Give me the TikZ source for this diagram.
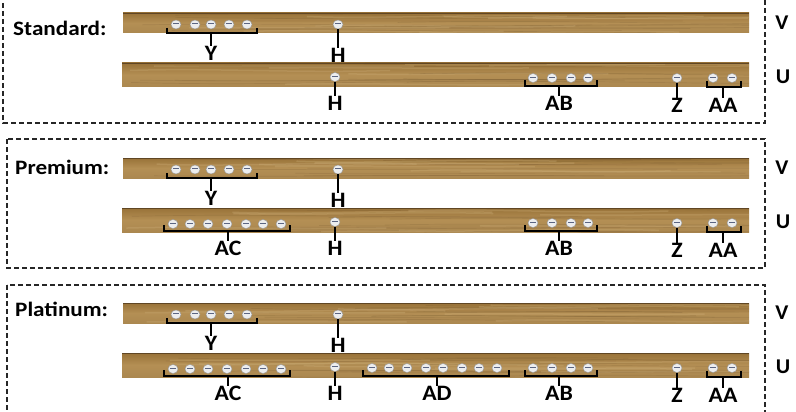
\documentclass[tikz,border=0pt]{standalone}
\usepackage{fontspec}
\setmainfont{Carlito}
\usetikzlibrary{shapes.geometric}
\definecolor{woodA}{RGB}{152,114,56}
\definecolor{woodB}{RGB}{180,143,84}
\definecolor{woodD}{RGB}{96,70,36}
\definecolor{woodL}{RGB}{206,176,122}
\definecolor{btnfill}{RGB}{236,237,238}
\definecolor{btnedge}{RGB}{150,150,150}
\definecolor{btnink}{RGB}{90,100,130}
\tikzset{
  btn/.style={ellipse, draw=btnedge, line width=0.4pt, fill=btnfill, inner sep=0pt,
    minimum width=10pt, minimum height=9pt,
    path picture={\fill[btnink] ([xshift=-2.6pt,yshift=0.3pt]path picture bounding box.center) rectangle ++(5.2pt,0.9pt);}},
  lbl/.style={font=\bfseries\fontsize{22}{22}\selectfont, inner sep=0pt, xscale=1.08},
  sidelbl/.style={font=\bfseries\fontsize{21}{21}\selectfont, inner sep=0pt, xscale=1.05},
  ttl/.style={font=\bfseries\fontsize{20.5}{20.5}\selectfont, inner sep=0pt, anchor=west, xscale=1.13},
  brk/.style={line width=2pt, black},
  panelbox/.style={line width=1.1pt, black!85, dash pattern=on 5pt off 3pt},
}
\newcommand\woodboard[4]{%
  \begin{scope}
    \clip (#1,#2) rectangle (#3,#4);
    \shade[top color=woodA, bottom color=woodB!95!black, middle color=woodB] (#1,#2) rectangle (#3,#4);
    \foreach \k in {1,...,12}{
      \pgfmathsetmacro\yy{#2+rnd*(#4-#2)}
      \pgfmathsetmacro\dy{(rnd-0.5)*9}
      \pgfmathsetmacro\xa{#1+rnd*(#3-#1)*0.5}
      \draw[woodD, opacity=0.15, line width=0.7pt] (\xa,\yy) .. controls ({\xa+150},{\yy+\dy}) and ({\xa+300},{\yy-\dy}) .. ({\xa+450},\yy);
    }
    \foreach \k in {1,...,8}{
      \pgfmathsetmacro\yy{#2+rnd*(#4-#2)}
      \pgfmathsetmacro\dy{(rnd-0.5)*7}
      \pgfmathsetmacro\xa{#1+rnd*(#3-#1)*0.7}
      \draw[woodL, opacity=0.3, line width=1.5pt] (\xa,\yy) .. controls ({\xa+80},{\yy+\dy}) and ({\xa+160},{\yy-\dy}) .. ({\xa+260},\yy);
    }
    \fill[woodD] (#1,#2) rectangle (#3,#2+1.3);
  \end{scope}}
% common rows of a panel; #1 = name prefix
\newcommand\panelrows[1]{%
  \woodboard{123}{13}{749}{33}
  \woodboard{122}{63}{749}{87}
  % Y group
  \foreach \x [count=\i] in {176,195,211,229,247} {\node[btn] (#1y\i) at (\x,24.5) {};}
  \draw[brk] (167,28) -- (167,33) -- (257,33) -- (257,28);
  \coordinate (#1yb) at (211,33);
  \node[lbl] (#1Y) at (211,53) {Y};
  \draw[brk] (#1yb) -- (#1Y.north);
  % H top
  \node[btn] (#1h1) at (338,24.5) {};
  \node[lbl] (#1H1) at (338,55) {H};
  \draw[brk] (#1h1.south) -- (#1H1.north);
  % H bottom
  \node[btn] (#1h2) at (335,77) {};
  \node[lbl] (#1H2) at (335,103.5) {H};
  \draw[brk] (#1h2.south) -- (#1H2.north);
  % AB group
  \foreach \x [count=\i] in {533,552,571,588} {\node[btn] (#1ab\i) at (\x,78) {};}
  \draw[brk] (525,80) -- (525,86) -- (597,86) -- (597,80);
  \coordinate (#1abb) at (559,86);
  \node[lbl] (#1AB) at (559,103.5) {AB};
  \draw[brk] (#1abb) -- (#1AB.north);
  % Z
  \node[btn] (#1z) at (677,78) {};
  \node[lbl] (#1Z) at (677,105.5) {Z};
  \draw[brk] (#1z.south) -- (#1Z.north);
  % AA group
  \foreach \x [count=\i] in {713,732} {\node[btn] (#1aa\i) at (\x,78) {};}
  \draw[brk] (707,81) -- (707,87) -- (741,87) -- (741,81);
  \coordinate (#1aab) at (723,87);
  \node[lbl] (#1AA) at (723,105) {AA};
  \draw[brk] (#1aab) -- (#1AA.north);
  % side labels
  \node[sidelbl] (#1V) at (782,23) {V};
  \node[sidelbl] (#1U) at (783,77) {U};
}
\newcommand\acgroup[1]{%
  \foreach \x [count=\i] in {173,190,208,227,246,263,281} {\node[btn] (#1ac\i) at (\x,79) {};}
  \draw[brk] (164,80) -- (164,86) -- (290,86) -- (290,80);
  \coordinate (#1acb) at (228,86);
  \node[lbl] (#1AC) at (228,103) {AC};
  \draw[brk] (#1acb) -- (#1AC.north);
}
\begin{document}
\begin{tikzpicture}[x=1pt,y=-1pt]
\path[use as bounding box] (0,0) rectangle (796,412);
\clip (0,0) rectangle (796,412);
\pgfmathsetseed{7}
\fill[white] (0,0) rectangle (796,412);

% Panel 1: Standard
\draw[panelbox] (3,-5) rectangle (765,123);
\node[ttl] (stitle) at (13,28) {Standard:};
\panelrows{s}

% Panel 2: Premium
\draw[panelbox] (7,139) rectangle (765,268);
\begin{scope}[shift={(0,145)}]
  \node[ttl] (ptitle) at (15,22.5) {Premium:};
  \panelrows{p}
  \acgroup{p}
\end{scope}

% Panel 3: Platinum
\draw[panelbox] (7,285) rectangle (765,415);
\begin{scope}[shift={(0,290)}]
  \node[ttl] (ttitle) at (15,19.5) {Platinum:};
  \panelrows{t}
  \acgroup{t}
  \foreach \x [count=\i] in {372,389,407,426,443,462,479,497} {\node[btn] (tad\i) at (\x,78) {};}
  \draw[brk] (363,80) -- (363,86) -- (509,86) -- (509,80);
  \coordinate (tadb) at (437,86);
  \node[lbl] (tAD) at (437,103) {AD};
  \draw[brk] (tadb) -- (tAD.north);
\end{scope}
\end{tikzpicture}
\end{document}
